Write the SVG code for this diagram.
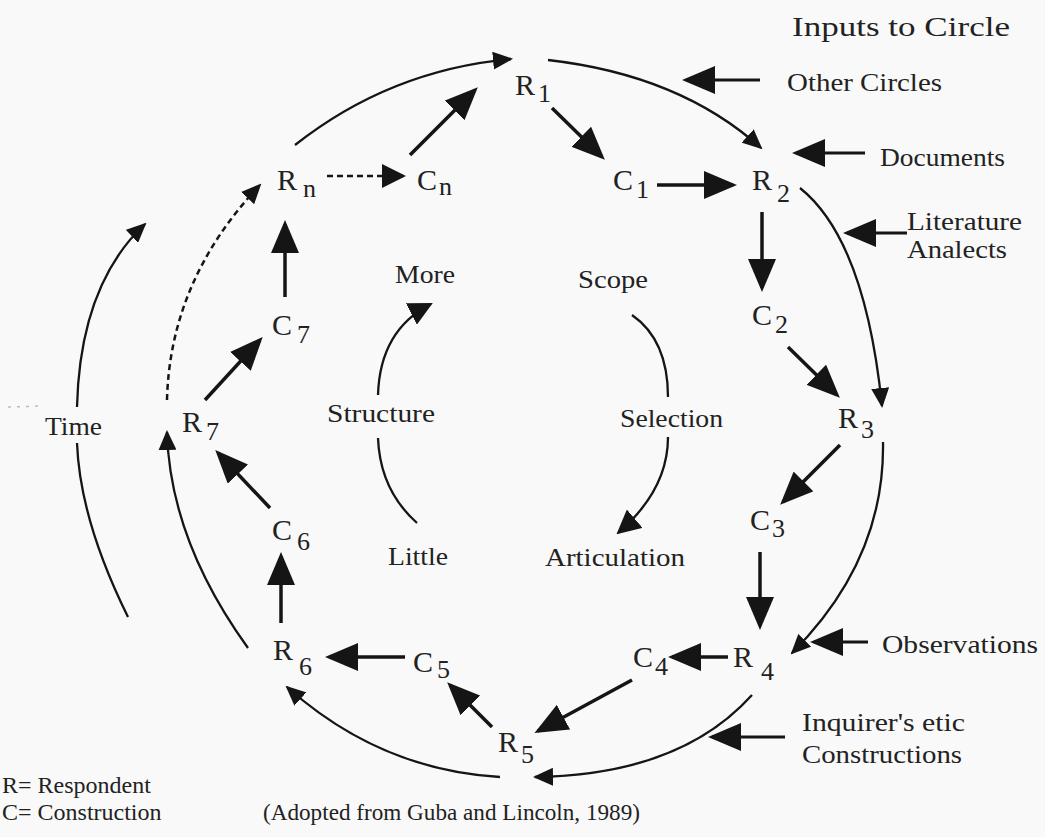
<svg xmlns="http://www.w3.org/2000/svg" width="1045" height="837" viewBox="0 0 1045 837">
<style>
.ln{stroke:#151515;stroke-width:3.5;fill:none}
.in{stroke:#151515;stroke-width:3;fill:none}
.arc{stroke:#151515;stroke-width:2.3;fill:none}
.dot{stroke:#151515;stroke-width:2.5;fill:none;stroke-dasharray:6 4}
.lbl{font-family:"Liberation Serif",serif;font-size:25px;fill:#222}
.big{font-size:28px}
.small{font-size:24px}
.sym{font-family:"Liberation Serif",serif;font-size:30px;fill:#222}
.sub{font-family:"Liberation Serif",serif;font-size:26px}
</style>
<defs>
<marker id="big" markerUnits="userSpaceOnUse" markerWidth="33" markerHeight="28" viewBox="0 0 33 28" refX="29" refY="14" orient="auto"><path d="M0,0 L33,14 L0,28 z" fill="#151515"/></marker>
<marker id="mid" markerUnits="userSpaceOnUse" markerWidth="24" markerHeight="24" viewBox="0 0 24 24" refX="22" refY="12" orient="auto"><path d="M0,0 L24,12 L0,24 z" fill="#151515"/></marker>
<marker id="small" markerUnits="userSpaceOnUse" markerWidth="20" markerHeight="18" viewBox="0 0 20 18" refX="18" refY="9" orient="auto"><path d="M0,0 L20,9 L0,18 z" fill="#151515"/></marker>
</defs>
<rect width="1045" height="837" fill="#f9f9f9"/>

<g id="connectors">
<line class="ln" x1="410" y1="155" x2="475" y2="90" marker-end="url(#big)"/>
<line class="ln" x1="552" y1="108" x2="602" y2="157" marker-end="url(#big)"/>
<line class="ln" x1="657" y1="185" x2="733" y2="185" marker-end="url(#big)"/>
<line class="ln" x1="762" y1="212" x2="762" y2="288" marker-end="url(#big)"/>
<line class="ln" x1="788" y1="347" x2="837" y2="395" marker-end="url(#big)"/>
<line class="ln" x1="840" y1="445" x2="783" y2="502" marker-end="url(#big)"/>
<line class="ln" x1="760" y1="552" x2="760" y2="626" marker-end="url(#big)"/>
<line class="ln" x1="728" y1="657" x2="672" y2="657" marker-end="url(#big)"/>
<line class="ln" x1="632" y1="680" x2="538" y2="731" marker-end="url(#big)"/>
<line class="ln" x1="492" y1="727" x2="450" y2="685" marker-end="url(#big)"/>
<line class="ln" x1="405" y1="657" x2="329" y2="657" marker-end="url(#big)"/>
<line class="ln" x1="281" y1="623" x2="281" y2="556" marker-end="url(#big)"/>
<line class="ln" x1="270" y1="508" x2="218" y2="453" marker-end="url(#big)"/>
<line class="ln" x1="205" y1="400" x2="260" y2="340" marker-end="url(#big)"/>
<line class="ln" x1="285" y1="297" x2="285" y2="224" marker-end="url(#big)"/>
<line class="dot" x1="327" y1="176" x2="404" y2="176" marker-end="url(#mid)"/>
<line class="in" x1="760" y1="80" x2="686" y2="80" marker-end="url(#big)"/>
<line class="in" x1="865" y1="153" x2="796" y2="153" marker-end="url(#big)"/>
<line class="in" x1="907" y1="233" x2="847" y2="233" marker-end="url(#big)"/>
<line class="in" x1="868" y1="642" x2="814" y2="642" marker-end="url(#big)"/>
<line class="in" x1="785" y1="737" x2="712" y2="737" marker-end="url(#big)"/>
<path class="arc" d="M295,145 Q390,70 511,59" marker-end="url(#small)"/>
<path class="arc" d="M548,60 Q680,75 761,148" marker-end="url(#small)"/>
<path class="arc" d="M800,188 Q865,240 882,406" marker-end="url(#small)"/>
<path class="arc" d="M883,442 Q885,560 792,653" marker-end="url(#small)"/>
<path class="arc" d="M752,695 Q680,775 535,777" marker-end="url(#small)"/>
<path class="arc" d="M500,777 Q380,770 287,687" marker-end="url(#small)"/>
<path class="arc" d="M248,648 Q170,540 167,432" marker-end="url(#small)"/>
<path class="dot" d="M167,400 Q170,280 260,185" marker-end="url(#small)"/>
<path class="arc" d="M128,617 Q80,520 77,443"/>
<path class="arc" d="M77,407 Q80,285 145,224" marker-end="url(#small)"/>
<path class="arc" d="M417,523 Q380,490 378,438"/>
<path class="arc" d="M378,395 Q380,330 431,304" marker-end="url(#mid)"/>
<path class="arc" d="M632,315 Q668,340 668,397"/>
<path class="arc" d="M668,437 Q668,490 618,533" marker-end="url(#mid)"/>
<line x1="8" y1="407" x2="42" y2="406" stroke="#bbb" stroke-width="1.5" stroke-dasharray="3 6"/>
</g>

<g id="node-R1"><text class="sym" x="515" y="95">R<tspan class="sub" x="538" y="102">1</tspan></text></g>
<g id="node-Rn"><text class="sym" x="277" y="190">R<tspan class="sub" x="303" y="197">n</tspan></text></g>
<g id="node-Cn"><text class="sym" x="417" y="190">C<tspan class="sub" x="439" y="195">n</tspan></text></g>
<g id="node-C1"><text class="sym" x="613" y="190">C<tspan class="sub" x="636" y="198">1</tspan></text></g>
<g id="node-R2"><text class="sym" x="752" y="190">R<tspan class="sub" x="777" y="202">2</tspan></text></g>
<g id="node-C2"><text class="sym" x="752" y="325">C<tspan class="sub" x="775" y="333">2</tspan></text></g>
<g id="node-R3"><text class="sym" x="838" y="428">R<tspan class="sub" x="861" y="438">3</tspan></text></g>
<g id="node-C3"><text class="sym" x="750" y="530">C<tspan class="sub" x="772" y="537">3</tspan></text></g>
<g id="node-R4"><text class="sym" x="733" y="667">R<tspan class="sub" x="761" y="680">4</tspan></text></g>
<g id="node-C4"><text class="sym" x="633" y="667">C<tspan class="sub" x="655" y="675">4</tspan></text></g>
<g id="node-R5"><text class="sym" x="498" y="752">R<tspan class="sub" x="521" y="763">5</tspan></text></g>
<g id="node-C5"><text class="sym" x="413" y="672">C<tspan class="sub" x="437" y="678">5</tspan></text></g>
<g id="node-R6"><text class="sym" x="273" y="660">R<tspan class="sub" x="299" y="675">6</tspan></text></g>
<g id="node-C6"><text class="sym" x="272" y="540">C<tspan class="sub" x="297" y="550">6</tspan></text></g>
<g id="node-R7"><text class="sym" x="182" y="432">R<tspan class="sub" x="206" y="440">7</tspan></text></g>
<g id="node-C7"><text class="sym" x="272" y="335">C<tspan class="sub" x="297" y="343">7</tspan></text></g>

<g id="label-inputs"><text class="lbl big" x="792" y="36" textLength="218" lengthAdjust="spacingAndGlyphs">Inputs to Circle</text></g>
<g id="label-other"><text class="lbl" x="787" y="91" textLength="155" lengthAdjust="spacingAndGlyphs">Other Circles</text></g>
<g id="label-documents"><text class="lbl" x="880" y="166" textLength="125" lengthAdjust="spacingAndGlyphs">Documents</text></g>
<g id="label-literature"><text class="lbl" x="907" y="230" textLength="115" lengthAdjust="spacingAndGlyphs">Literature</text><text class="lbl" x="907" y="258" textLength="100" lengthAdjust="spacingAndGlyphs">Analects</text></g>
<g id="label-observations"><text class="lbl" x="882" y="653" textLength="156" lengthAdjust="spacingAndGlyphs">Observations</text></g>
<g id="label-inquirer"><text class="lbl" x="802" y="731" textLength="163" lengthAdjust="spacingAndGlyphs">Inquirer's etic</text><text class="lbl" x="802" y="763" textLength="160" lengthAdjust="spacingAndGlyphs">Constructions</text></g>
<g id="label-scope"><text class="lbl" x="578" y="288" textLength="70" lengthAdjust="spacingAndGlyphs">Scope</text></g>
<g id="label-selection"><text class="lbl" x="620" y="427" textLength="103" lengthAdjust="spacingAndGlyphs">Selection</text></g>
<g id="label-articulation"><text class="lbl" x="545" y="566" textLength="140" lengthAdjust="spacingAndGlyphs">Articulation</text></g>
<g id="label-more"><text class="lbl" x="395" y="283" textLength="60" lengthAdjust="spacingAndGlyphs">More</text></g>
<g id="label-structure"><text class="lbl" x="327" y="422" textLength="108" lengthAdjust="spacingAndGlyphs">Structure</text></g>
<g id="label-little"><text class="lbl" x="388" y="565" textLength="60" lengthAdjust="spacingAndGlyphs">Little</text></g>
<g id="label-time"><text class="lbl" x="45" y="435" textLength="57" lengthAdjust="spacingAndGlyphs">Time</text></g>
<g id="legend"><text class="lbl small" x="2" y="793">R= Respondent</text><text class="lbl small" x="2" y="820">C= Construction</text></g>
<g id="citation"><text class="lbl small" x="263" y="820" textLength="377" lengthAdjust="spacingAndGlyphs">(Adopted from Guba and Lincoln, 1989)</text></g>
</svg>
